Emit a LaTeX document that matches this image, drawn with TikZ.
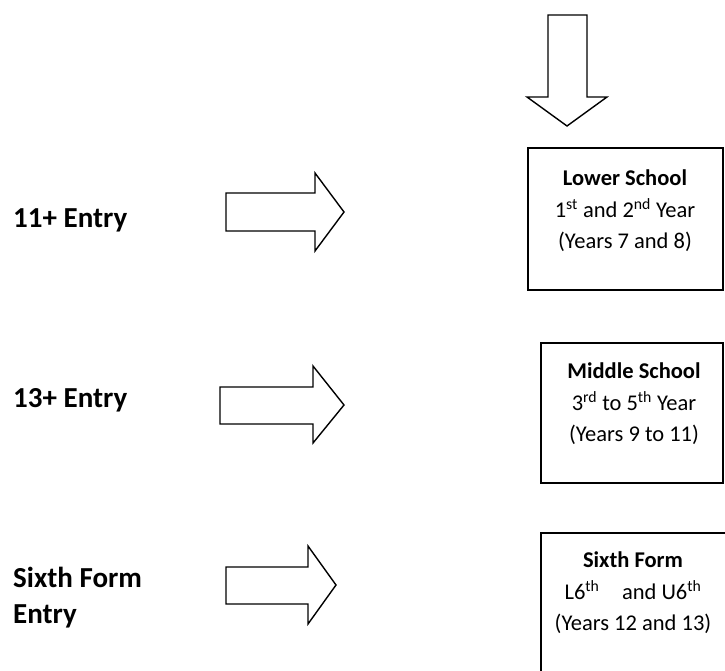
\documentclass[tikz,border=0pt]{standalone}
\usepackage{fontspec}
\setmainfont{Carlito}
\begin{document}
\begin{tikzpicture}[x=1pt,y=-1pt,
  blockarrow/.style={draw=black,line width=1.4pt,fill=white,line join=miter},
  stagebox/.style={draw=black,line width=1.8pt},
  entrylabel/.style={anchor=west,inner sep=0pt,align=left,font=\fontsize{29}{36}\selectfont\bfseries},
  stagetext/.style={inner sep=0pt,align=center,font=\fontsize{22.5}{31.5}\selectfont}]
\useasboundingbox (0,0) rectangle (725,671);
\clip (0,0) rectangle (725,671);
% top down arrow
\draw[blockarrow] (548,15) -- (587,15) -- (587,97) -- (607,97) -- (567,126) -- (527,97) -- (548,97) -- cycle;
% boxes
\draw[stagebox] (528,148) rectangle (723,290);
\draw[stagebox] (541,343) rectangle (723,483);
\draw[stagebox] (541,533) rectangle (760,700);
% right arrows
\draw[blockarrow] (226,193) -- (315,193) -- (315,173) -- (344,212) -- (315,251) -- (315,231) -- (226,231) -- cycle;
\draw[blockarrow] (220,387) -- (313,387) -- (313,366) -- (344,405) -- (313,443) -- (313,424) -- (220,424) -- cycle;
\draw[blockarrow] (226,567) -- (308,567) -- (308,546) -- (336,585) -- (308,624) -- (308,604) -- (226,604) -- cycle;
% left labels
\node[entrylabel] (e1) at (13,220) {11+ Entry};
\node[entrylabel] (e2) at (13,400) {13+ Entry};
\node[entrylabel] (e3) at (13,598) {Sixth Form\\Entry};
% box texts
\node[stagetext] (s1) at (625,211) {\textbf{Lower School}\\1\textsuperscript{st} and 2\textsuperscript{nd} Year\\(Years 7 and 8)};
\node[stagetext] (s2) at (634,404) {\textbf{Middle School}\\3\textsuperscript{rd} to 5\textsuperscript{th} Year\\(Years 9 to 11)};
\node[stagetext] (s3) at (633,593) {\textbf{Sixth Form}\\L6\textsuperscript{th}\quad and U6\textsuperscript{th}\\(Years 12 and 13)};
\end{tikzpicture}
\end{document}
